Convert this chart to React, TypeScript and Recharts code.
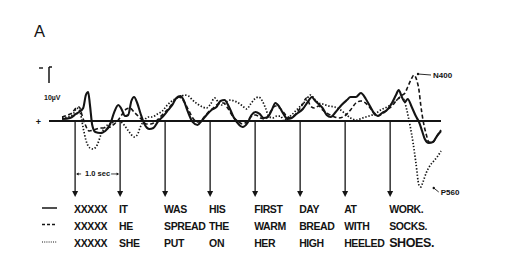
import { LineChart, Line, XAxis, YAxis, ReferenceLine, ReferenceDot, Legend } from 'recharts'

type Pt = [number, number]

const FONT = '"Liberation Sans", Arial, sans-serif'
const INK = '#141414'

// seconds from the first word onset, one word every second
const wordOnsets = [0, 1, 2, 3, 4, 5, 6, 7]
const sentenceWork = ['XXXXX', 'IT', 'WAS', 'HIS', 'FIRST', 'DAY', 'AT', 'WORK.']
const sentenceSocks = ['XXXXX', 'HE', 'SPREAD', 'THE', 'WARM', 'BREAD', 'WITH', 'SOCKS.']
const sentenceShoes = ['XXXXX', 'SHE', 'PUT', 'ON', 'HER', 'HIGH', 'HEELED', 'SHOES.']

// amplitude in µV, negative up (as in the original)
const workWave: Pt[] = [
  [-0.29, -1.25], [-0.11, -1.9], [0.02, -4.4], [0.09, -5.6], [0.18, -8.1], [0.24, -16.25], [0.29, -18.1],
  [0.33, -10], [0.38, 2.5], [0.45, 6.9], [0.56, 7.5], [0.67, 6.25], [0.78, 1.9], [0.87, -5.6], [0.96, -10],
  [1.02, -8.1], [1.11, -3.1], [1.18, -3.75], [1.25, -12.5], [1.31, -15], [1.38, -11.25], [1.45, -5],
  [1.54, 1.9], [1.65, 5], [1.74, 4.4], [1.85, 0], [1.96, -3.1], [2.07, -6.9], [2.16, -10], [2.25, -14.4],
  [2.34, -15.6], [2.41, -13.1], [2.49, -6.9], [2.61, 0.6], [2.72, 2.5], [2.81, 0], [2.92, -3.75], [3.03, -6.9],
  [3.14, -8.75], [3.23, -12.5], [3.32, -13.1], [3.41, -9.4], [3.52, -2.5], [3.63, 1.9], [3.72, 3.75],
  [3.83, 1.25], [3.92, -3.75], [4.01, -5.6], [4.1, -4.4], [4.19, -1.9], [4.28, -2.5], [4.37, -6.9],
  [4.45, -11.25], [4.54, -8.75], [4.63, -4.4], [4.72, -1.25], [4.81, -1.9], [4.92, -4.4], [5.06, -7.5],
  [5.17, -11.9], [5.26, -15], [5.32, -13.1], [5.41, -10.6], [5.5, -8.1], [5.59, -3.75], [5.68, -2.5],
  [5.79, -5.6], [5.92, -10], [6.04, -13.1], [6.12, -15], [6.24, -15], [6.35, -17.5], [6.46, -13.75],
  [6.55, -9.4], [6.64, -5], [6.73, -3.1], [6.82, -5], [6.93, -6.9], [7.04, -11.25], [7.13, -16.25],
  [7.19, -19.4], [7.26, -15], [7.33, -11.9], [7.39, -13.75], [7.48, -8.75], [7.57, -3.1], [7.64, 0.6],
  [7.71, 6.25], [7.77, 11.25], [7.86, 13.75], [7.95, 13.1], [8.04, 9.4], [8.13, 6.25],
]

const socksWave: Pt[] = [
  [-0.29, -2.5], [-0.16, -3.75], [-0.07, -5], [0.02, -8.1], [0.09, -8.75], [0.16, -3.1], [0.22, 1.9],
  [0.31, 6.25], [0.42, 5.6], [0.56, 4.4], [0.67, 4.4], [0.78, 3.75], [0.87, 1.9], [0.96, -0.6], [1.05, -4.4],
  [1.14, -7.5], [1.22, -8.1], [1.31, -5.6], [1.4, -3.1], [1.49, -0.6], [1.58, 1.9], [1.67, 1.9], [1.78, 0.6],
  [1.89, -2.5], [2.0, -5.6], [2.12, -9.4], [2.23, -13.75], [2.32, -15], [2.41, -12.5], [2.52, -6.9],
  [2.63, -1.25], [2.74, 0.6], [2.85, -1.9], [2.96, -5.6], [3.07, -8.1], [3.18, -10.6], [3.3, -11.25],
  [3.39, -8.1], [3.5, -3.1], [3.61, 0], [3.72, 1.9], [3.81, 0.6], [3.9, -2.5], [4.01, -3.75], [4.12, -1.9],
  [4.23, -1.25], [4.34, -5.6], [4.45, -9.4], [4.57, -7.5], [4.68, -3.75], [4.79, -1.9], [4.92, -5],
  [5.06, -10.6], [5.14, -14.4], [5.23, -9.4], [5.32, -8.1], [5.41, -9.4], [5.5, -6.9], [5.59, -5],
  [5.72, -3.1], [5.86, -1.9], [5.99, -3.1], [6.12, -6.9], [6.24, -11.25], [6.35, -12.5], [6.48, -10.6],
  [6.59, -6.9], [6.7, -3.1], [6.82, -4.4], [6.93, -6.9], [7.04, -9.4], [7.15, -13.1], [7.24, -15.6],
  [7.33, -17.5], [7.39, -21.25], [7.46, -25.6], [7.53, -28.75], [7.59, -25.6], [7.64, -19.4], [7.68, -10],
  [7.73, -0.6], [7.8, 8.1], [7.86, 13.1], [7.95, 13.1], [8.04, 9.4], [8.13, 5.6],
]

const shoesWave: Pt[] = [
  [-0.29, -1.9], [-0.16, -2.5], [-0.04, -4.4], [0.04, -8.1], [0.11, -5.6], [0.18, 4.4], [0.24, 11.9],
  [0.33, 16.9], [0.4, 17.5], [0.49, 15], [0.58, 8.1], [0.67, 3.75], [0.78, 1.9], [0.87, 0.6], [0.96, 0],
  [1.05, 1.25], [1.14, 4.4], [1.22, 7.5], [1.31, 10], [1.38, 8.75], [1.45, 3.75], [1.54, -0.6], [1.63, -2.5],
  [1.71, -2.5], [1.83, -4.4], [1.94, -6.25], [2.03, -9.4], [2.12, -11.9], [2.23, -13.75], [2.34, -15],
  [2.43, -16.25], [2.52, -15.6], [2.61, -13.1], [2.72, -10.6], [2.83, -8.75], [2.92, -8.1], [3.01, -10.6],
  [3.1, -14.4], [3.18, -11.9], [3.27, -10], [3.36, -11.9], [3.45, -13.1], [3.54, -12.5], [3.63, -11.25],
  [3.72, -9.4], [3.81, -7.5], [3.9, -10.6], [3.99, -13.75], [4.08, -15], [4.16, -12.5], [4.23, -8.1],
  [4.3, -3.1], [4.39, -1.9], [4.48, -3.1], [4.57, -3.1], [4.63, 0], [4.72, -1.9], [4.81, -3.75],
  [4.92, -6.9], [5.01, -9.4], [5.12, -12.5], [5.23, -16.25], [5.32, -13.75], [5.41, -11.25], [5.5, -10.6],
  [5.63, -9.4], [5.77, -8.75], [5.9, -6.9], [6.01, -4.4], [6.12, -1.9], [6.26, -0.6], [6.39, -1.9],
  [6.53, -3.1], [6.66, -4.4], [6.79, -6.9], [6.93, -8.75], [7.04, -10.6], [7.15, -13.1], [7.24, -15],
  [7.31, -13.1], [7.37, -6.9], [7.44, 2.5], [7.51, 13.75], [7.57, 25.6], [7.64, 40], [7.68, 41.25],
  [7.73, 38.1], [7.8, 32.5], [7.88, 28.1], [7.97, 25], [8.06, 21.9], [8.13, 18.75],
]

const n400Peak = { t: 7.53, uv: -28.75 }
const p560Peak = { t: 7.68, uv: 41.25 }

const toRows = (pts: Pt[]) => pts.map(([t, uv]) => ({ t, uv }))

const WordTick = (props: any) => {
  const { x, y, payload } = props
  const i = wordOnsets.indexOf(payload.value)
  if (i < 0) return null
  return (
    <g fontFamily={FONT} fontWeight={700} fontSize={10.5} letterSpacing={-0.4} fill={INK}>
      <text x={x - 1} y={y + 12}>{sentenceWork[i]}</text>
      <text x={x - 1} y={y + 29}>{sentenceSocks[i]}</text>
      <text x={x - 1} y={y + 46} fontSize={i === 7 ? 12.5 : 10.5}>{sentenceShoes[i]}</text>
    </g>
  )
}

const ArrowHead = (p: any) => (
  <polygon points={`${p.cx - 3},${p.cy - 2} ${p.cx + 3},${p.cy - 2} ${p.cx},${p.cy + 4}`} fill={INK} />
)

const ScaleBarLabel = (p: any) => {
  const { x, y, height } = p.viewBox
  return (
    <g fontFamily={FONT} fontWeight={700} fill={INK}>
      <line x1={x} x2={x + 3} y1={y} y2={y} stroke={INK} strokeWidth={1.5} />
      <line x1={x - 10} x2={x - 6} y1={y + 1} y2={y + 1} stroke={INK} strokeWidth={1.4} />
      <text x={x - 5} y={y + height + 17} fontSize={7}>10µV</text>
      <text x={x - 8} y={y + height + 42} fontSize={9} textAnchor="end">+</text>
    </g>
  )
}

const SecondLabel = (p: any) => {
  const { x, y, width } = p.viewBox
  const right = x + width
  return (
    <g fill={INK} stroke={INK}>
      <line x1={x + 2} x2={x + 6} y1={y} y2={y} strokeWidth={0.8} />
      <polygon points={`${x + 1},${y} ${x + 3.5},${y - 1.5} ${x + 3.5},${y + 1.5}`} stroke="none" />
      <text x={x + width / 2} y={y + 2.5} textAnchor="middle" fontFamily={FONT} fontWeight={700} fontSize={7.5} stroke="none">
        1.0 sec
      </text>
      <line x1={right - 9} x2={right - 2} y1={y} y2={y} strokeWidth={0.8} />
      <polygon points={`${right - 1},${y} ${right - 3.5},${y - 1.5} ${right - 3.5},${y + 1.5}`} stroke="none" />
    </g>
  )
}

const PeakLabel = (text: string, dx: number, dy: number, tx: number, ty: number) => (p: any) => {
  const { x, y } = p.viewBox
  const ax = x + dx
  const ay = y + dy
  return (
    <g fill={INK}>
      <line x1={ax} y1={ay} x2={x + tx - 2} y2={y + ty - 3} stroke={INK} strokeWidth={0.9} />
      <circle cx={ax} cy={ay} r={1.2} />
      <text x={x + tx} y={y + ty} fontFamily={FONT} fontWeight={700} fontSize={8}>{text}</text>
    </g>
  )
}

const LegendKey = () => (
  <svg width={18} height={42}>
    <line x1={2} x2={17} y1={5} y2={5} stroke={INK} strokeWidth={1.5} />
    <line x1={2} x2={17} y1={21.5} y2={21.5} stroke={INK} strokeWidth={1.3} strokeDasharray="3 2" />
    <line x1={2} x2={17} y1={39} y2={39} stroke={INK} strokeWidth={1} strokeDasharray="1 1.2" />
  </svg>
)

const App = () => {
  return (
    <div style={{ position: 'absolute', left: 0, top: 0, width: 520, height: 269, background: '#fff' }}>
      <div style={{ position: 'absolute', left: 34, top: 23, fontFamily: FONT, fontSize: 16.5, lineHeight: 1, color: INK }}>
        A
      </div>
      <LineChart width={520} height={269} margin={{ top: 65, right: 79, bottom: 0, left: 49 }}>
        <XAxis
          type="number"
          dataKey="t"
          domain={[-0.58, 8.13]}
          ticks={wordOnsets}
          axisLine={false}
          tickLine={false}
          tickSize={0}
          tickMargin={0}
          height={68}
          interval={0}
          tick={WordTick}
        />
        <YAxis hide reversed type="number" domain={[-35, 50]} />
        <Legend
          layout="horizontal"
          verticalAlign="middle"
          content={LegendKey}
          wrapperStyle={{ position: 'absolute', left: 40, top: 203, width: 18, height: 42 }}
        />
        <ReferenceLine y={0} stroke={INK} strokeWidth={2} />
        <ReferenceLine
          segment={[{ x: -0.58, y: -33.75 }, { x: -0.58, y: -23.75 }]}
          stroke={INK}
          strokeWidth={1.5}
          ifOverflow="visible"
          label={ScaleBarLabel}
        />
        {wordOnsets.map((t) => (
          <ReferenceLine key={`arrow-${t}`} segment={[{ x: t, y: 0 }, { x: t, y: 44 }]} stroke={INK} strokeWidth={1.3} />
        ))}
        {wordOnsets.map((t) => (
          <ReferenceDot key={`head-${t}`} x={t} y={45} r={3} shape={ArrowHead} />
        ))}
        <ReferenceLine
          segment={[{ x: 0, y: 33.1 }, { x: 1, y: 33.1 }]}
          stroke="none"
          label={SecondLabel}
        />
        <Line
          data={toRows(workWave)}
          dataKey="uv"
          type="monotone"
          stroke={INK}
          strokeWidth={2.1}
          dot={false}
          isAnimationActive={false}
        />
        <Line
          data={toRows(socksWave)}
          dataKey="uv"
          type="monotone"
          stroke={INK}
          strokeWidth={1.6}
          strokeDasharray="4 2.5"
          dot={false}
          isAnimationActive={false}
        />
        <Line
          data={toRows(shoesWave)}
          dataKey="uv"
          type="monotone"
          stroke={INK}
          strokeWidth={1.7}
          strokeDasharray="1.4 1.8"
          dot={false}
          isAnimationActive={false}
        />
        <ReferenceDot
          x={n400Peak.t}
          y={n400Peak.uv}
          r={0}
          fill="none"
          stroke="none"
          label={PeakLabel('N400', 4, -1, 19, 3)}
        />
        <ReferenceDot
          x={p560Peak.t}
          y={p560Peak.uv}
          r={0}
          fill="none"
          stroke="none"
          label={PeakLabel('P560', 13, 1, 20, 8)}
        />
      </LineChart>
    </div>
  )
}

export default App
